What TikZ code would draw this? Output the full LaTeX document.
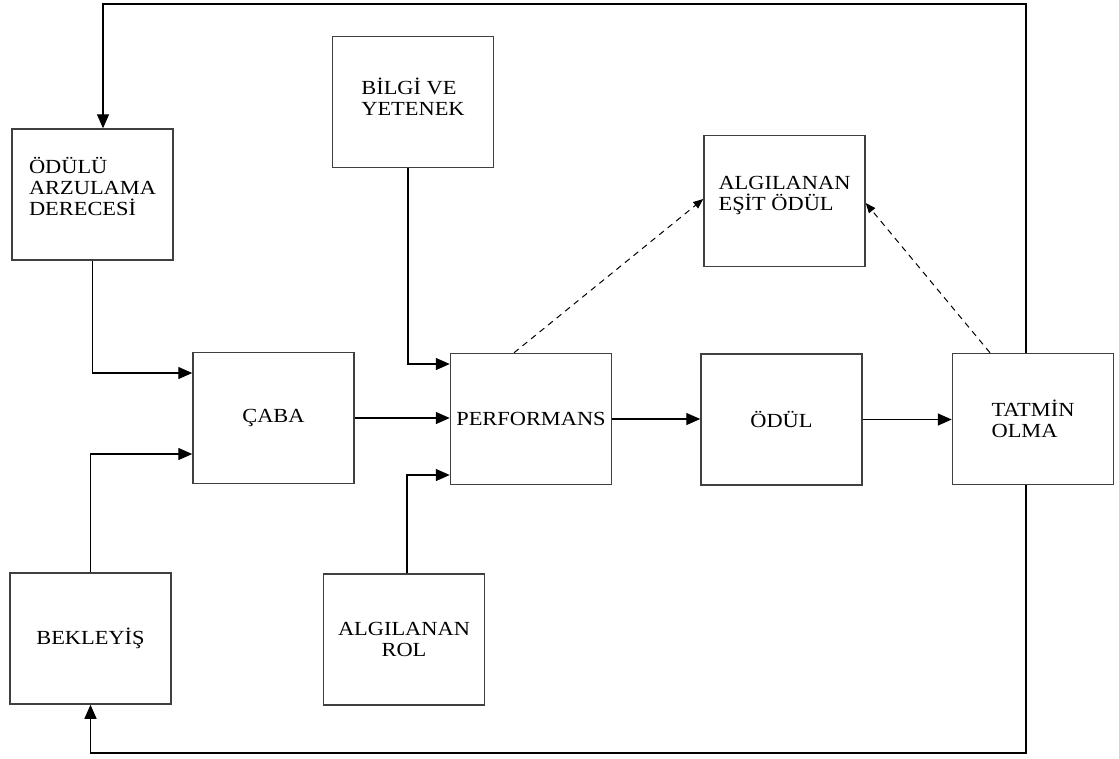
\documentclass[tikz,border=0pt]{standalone}
\usepackage{fontspec}
\setmainfont{Liberation Serif}[FakeStretch=1.12]
\usepackage{tikz}
\usetikzlibrary{positioning}
\usetikzlibrary{shapes,arrows,arrows.meta}

\begin{document}
\begin{tikzpicture}[x=1pt,y=-1pt,
		box/.style={draw=black!75, line width=1.5pt, minimum width=161pt, minimum height=131pt, inner sep=0pt, align=left, font=\fontsize{20}{21}\selectfont},
		arr/.style={line width=1.4pt, -{Triangle[length=14pt,width=12pt]}},
		darr/.style={line width=1pt, dashed, dash pattern=on 6pt off 5pt, -{Triangle[length=10pt,width=8pt]}}]
		\useasboundingbox (0,0) rectangle (1119,758);
		
		% boxes
		\node[box] (odulu) at (92.5,194.5) {ÖDÜLÜ\\ARZULAMA\\DERECESİ\\[-5pt]};
		\node[box] (bilgi) at (413,102) {BİLGİ VE\\YETENEK\\[-11pt]};
		\node[box] (esit) at (784.5,201) {ALGILANAN\\EŞİT ÖDÜL\\[-5pt]};
		\node[box] (caba) at (273.5,418) {ÇABA};
		\node[box] (perf) at (531,419) {PERFORMANS};
		\node[box] (odul) at (781.5,419.5) {ÖDÜL};
		\node[box] (tatmin) at (1033,419) {TATMİN\\OLMA};
		\node[box] (bekleyis) at (90.5,638.5) {BEKLEYİŞ};
		\node[box, align=center] (rol) at (404,639.5) {ALGILANAN\\ROL};
		
		% loop lines
		\coordinate (tr) at (1026,4);
		\coordinate (br) at (1026,753);
		\draw[arr] (tatmin.north -| tr) -- (tr) -| ([xshift=10.5pt]odulu.north);
		\draw[arr] (tatmin.south -| br) -- (br) -| (bekleyis.south);
		
		% into caba
		\draw[arr] (odulu.south) |- ([yshift=45pt]caba.west);
		\draw[arr] (bekleyis.north) |- ([yshift=-36pt]caba.west);
		
		% into performans
		\draw[arr] (caba.east) -- (caba.east -| perf.west);
		\draw[arr] ([xshift=-5pt]bilgi.south) |- ([yshift=55pt]perf.west);
		\draw[arr] ([xshift=3pt]rol.north) |- ([yshift=-56pt]perf.west);
		
		% main line
		\draw[arr] (perf.east) -- (perf.east -| odul.west);
		\draw[arr] (odul.east) -- (odul.east -| tatmin.west);
		
		% dashed
		\draw[darr] ([xshift=-17pt]perf.north) -- ([yshift=2pt]esit.west);
		\draw[darr] ([xshift=-43pt]tatmin.north) -- ([yshift=-2pt]esit.east);
	\end{tikzpicture}
\end{document}
